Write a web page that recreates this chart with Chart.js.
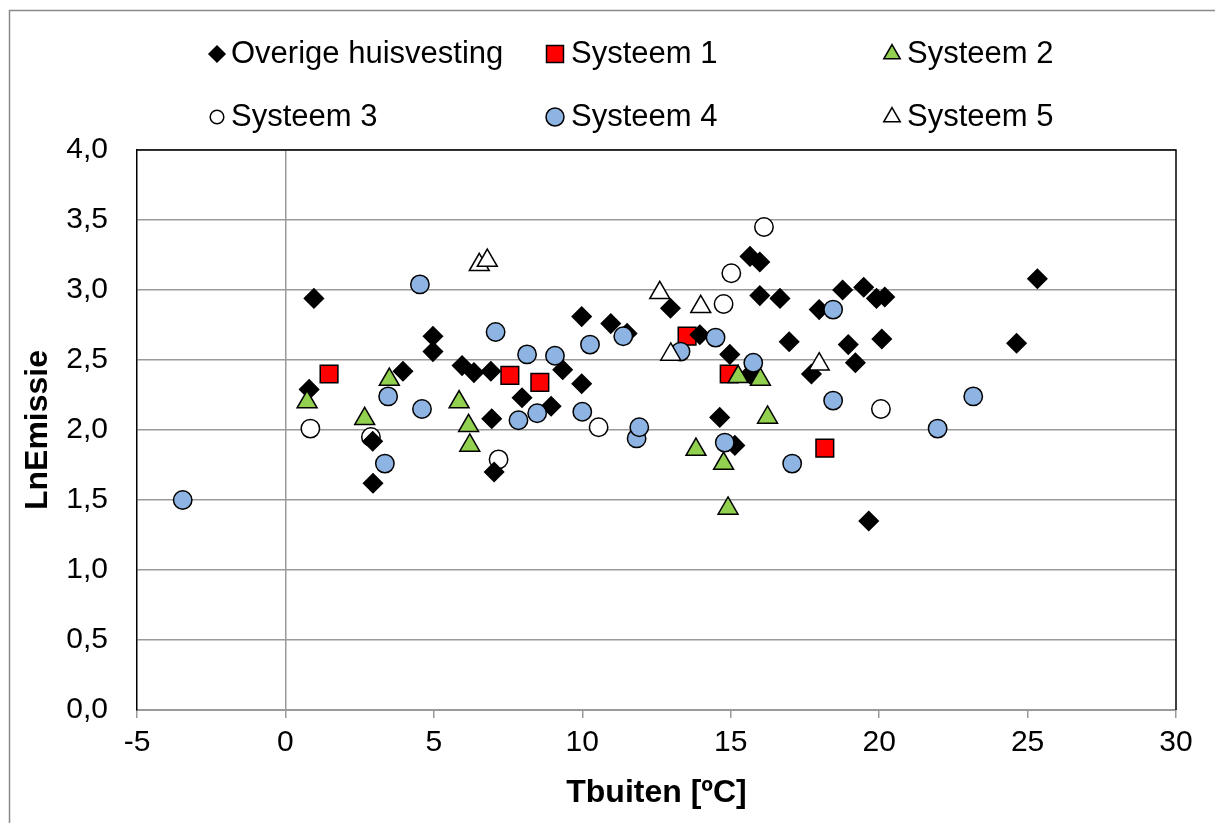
<!DOCTYPE html>
<html>
<head>
<meta charset="utf-8">
<script src="https://cdn.jsdelivr.net/npm/chart.js@4/dist/chart.umd.min.js"></script>
<style>
html,body{margin:0;padding:0;background:#fff;}
#wrap{width:1215px;height:823px;position:relative;}
</style>
</head>
<body>
<div id="wrap"><canvas id="c" width="1215" height="823"></canvas></div>
<script>
// ---- data ----
const seriesNames = ["Overige huisvesting","Systeem 1","Systeem 2","Systeem 3","Systeem 4","Systeem 5"];

const overigeX = [0.80,0.96,2.94,2.95,3.96,4.97,4.97,5.95,6.35,6.92,6.95,7.03,7.97,8.95,9.34,9.98,9.98,10.96,11.51,12.97,13.96,14.63,14.97,15.14,15.65,15.65,15.98,15.98,16.66,16.97,17.72,17.98,18.77,18.96,19.20,19.48,19.65,19.91,20.09,20.19,24.63,25.33];
const overigeY = [2.29,2.94,1.92,1.62,2.42,2.67,2.56,2.46,2.41,2.42,2.08,1.70,2.23,2.17,2.43,2.81,2.33,2.76,2.69,2.87,2.68,2.09,2.54,1.89,2.40,3.24,3.20,2.96,2.94,2.63,2.40,2.86,3.00,2.61,2.48,3.02,1.35,2.94,2.65,2.95,2.62,3.08];

const sys1X = [1.47,7.56,8.57,13.53,14.95,18.17];
const sys1Y = [2.40,2.39,2.34,2.67,2.40,1.87];

const sys2X = [0.73,2.67,3.50,5.85,6.17,6.21,13.83,14.76,14.91,15.25,16.00,16.24];
const sys2Y = [2.20,2.08,2.36,2.20,2.03,1.89,1.86,1.76,1.44,2.38,2.36,2.09];

const sys3X = [0.84,2.88,7.18,10.55,14.76,15.02,16.12,20.06];
const sys3Y = [2.01,1.95,1.79,2.02,2.90,3.12,3.45,2.15];

const sys4X = [-3.46,3.35,3.46,4.53,4.60,7.08,7.85,8.14,8.48,9.08,10.00,10.26,11.38,11.83,11.92,13.31,14.49,14.80,15.76,17.07,18.45,18.45,21.97,23.17];
const sys4Y = [1.50,1.76,2.24,3.04,2.15,2.70,2.07,2.54,2.12,2.53,2.13,2.61,2.67,1.94,2.02,2.56,2.66,1.91,2.48,1.76,2.86,2.21,2.01,2.24];

const sys5X = [6.53,6.80,12.61,12.98,13.99,17.98];
const sys5Y = [3.18,3.21,2.98,2.54,2.88,2.47];

const xTicks = [-5,0,5,10,15,20,25,30];
const yTicks = [0,0.5,1,1.5,2,2.5,3,3.5,4];

const xTitle = "Tbuiten [ºC]";
const yTitle = "LnEmissie";

// ---- build ----
const pts = (xs, ys) => xs.map((x, i) => ({x: x, y: ys[i]}));
const FONT = "'Liberation Sans', Arial, sans-serif";

const styles = [
  {pointStyle:'rectRot', bg:'#000000', r:9.5, order:4, lr:8},
  {pointStyle:'rect', bg:'#FF0000', r:12.5, order:6, lr:12},
  {pointStyle:'triangle', bg:'#92D050', r:11.5, order:3, lr:9.5},
  {pointStyle:'circle', bg:'#FFFFFF', r:9.2, order:5, lr:6.8},
  {pointStyle:'circle', bg:'#8EB4E3', r:9.2, order:2, lr:9},
  {pointStyle:'triangle', bg:'#FFFFFF', r:11.5, order:1, lr:9.5}
];
const dataArr = [pts(overigeX,overigeY), pts(sys1X,sys1Y), pts(sys2X,sys2Y), pts(sys3X,sys3Y), pts(sys4X,sys4Y), pts(sys5X,sys5Y)];

const datasets = seriesNames.map((n, i) => ({
  label: n,
  data: dataArr[i],
  order: styles[i].order,
  pointStyle: styles[i].pointStyle,
  pointRadius: styles[i].r,
  pointHoverRadius: styles[i].r,
  backgroundColor: styles[i].bg,
  borderColor: '#000000',
  borderWidth: 1.5,
  pointBorderWidth: 1.5,
  showLine: false
}));

// legend layout (custom, 2 rows x 3 columns)
const legendPos = [
  {mx:217, tx:231, y:54},
  {mx:555, tx:571, y:54},
  {mx:892, tx:907, y:54},
  {mx:217, tx:231, y:117},
  {mx:555, tx:571, y:117},
  {mx:892, tx:907, y:117}
];

const framePlugin = {
  id: 'frame',
  beforeDraw(chart) {
    const ctx = chart.ctx;
    ctx.save();
    ctx.fillStyle = '#fff';
    ctx.fillRect(0, 0, chart.width, chart.height);
    ctx.strokeStyle = '#8a8a8a';
    ctx.lineWidth = 1.5;
    ctx.strokeRect(9.5, 10.5, 1400, 1000);
    ctx.restore();
  },
  beforeDatasetsDraw(chart) {
    const ctx = chart.ctx, a = chart.chartArea;
    ctx.save();
    ctx.strokeStyle = '#000';
    ctx.lineWidth = 1.5;
    ctx.beginPath();
    ctx.moveTo(a.left, a.top);
    ctx.lineTo(a.right, a.top);
    ctx.lineTo(a.right, a.bottom);
    ctx.stroke();
    ctx.restore();
  },
  afterDraw(chart) {
    const ctx = chart.ctx;
    ctx.save();
    ctx.font = '31px ' + FONT;
    ctx.textBaseline = 'middle';
    ctx.textAlign = 'left';
    seriesNames.forEach((n, i) => {
      const p = legendPos[i];
      ctx.fillStyle = styles[i].bg;
      ctx.strokeStyle = '#000';
      ctx.lineWidth = 1.5;
      Chart.helpers.drawPoint(ctx, {pointStyle: styles[i].pointStyle, radius: styles[i].lr, borderWidth: 1.5, rotation: 0}, p.mx, p.y);
      ctx.fillStyle = '#000';
      ctx.fillText(n, p.tx, p.y);
    });
    ctx.restore();
  }
};

new Chart(document.getElementById('c'), {
  type: 'scatter',
  data: { datasets: datasets },
  options: {
    responsive: false,
    animation: false,
    events: [],
    layout: { padding: { left: 0, top: 150, right: 39, bottom: 0 } },
    plugins: { legend: { display: false }, tooltip: { enabled: false } },
    scales: {
      x: {
        type: 'linear',
        min: -5, max: 30,
        afterFit(s) { s.height = 113; },
        afterBuildTicks(s) { s.ticks = xTicks.map(v => ({value: v})); },
        ticks: {
          color: '#000',
          font: { family: FONT, size: 30 },
          padding: 7,
          callback: v => String(v).replace('.', ','),
          maxRotation: 0
        },
        grid: {
          color: ctx => (ctx.tick && ctx.tick.value === 0) ? '#9a9a9a' : 'rgba(0,0,0,0)',
          lineWidth: 1.5,
          tickColor: '#9a9a9a',
          tickLength: 8,
          drawTicks: true
        },
        border: { display: true, color: '#9a9a9a', width: 2 },
        title: {
          display: true,
          text: xTitle,
          color: '#000',
          font: { family: FONT, size: 32, weight: 'bold' },
          padding: { top: 0, bottom: 11 }
        }
      },
      y: {
        type: 'linear',
        min: 0, max: 4,
        afterFit(s) { s.width = 137; },
        afterBuildTicks(s) { s.ticks = yTicks.map(v => ({value: v})); },
        ticks: {
          color: '#000',
          font: { family: FONT, size: 30 },
          padding: 29,
          callback: v => Number(v).toFixed(1).replace('.', ',')
        },
        grid: {
          color: '#9a9a9a',
          lineWidth: 1.5,
          drawTicks: false
        },
        border: { display: true, color: '#000', width: 1.5 },
        title: {
          display: true,
          text: yTitle,
          color: '#000',
          font: { family: FONT, size: 32, weight: 'bold' },
          padding: { top: 19, bottom: 0 }
        }
      }
    }
  },
  plugins: [framePlugin]
});
</script>
</body>
</html>
